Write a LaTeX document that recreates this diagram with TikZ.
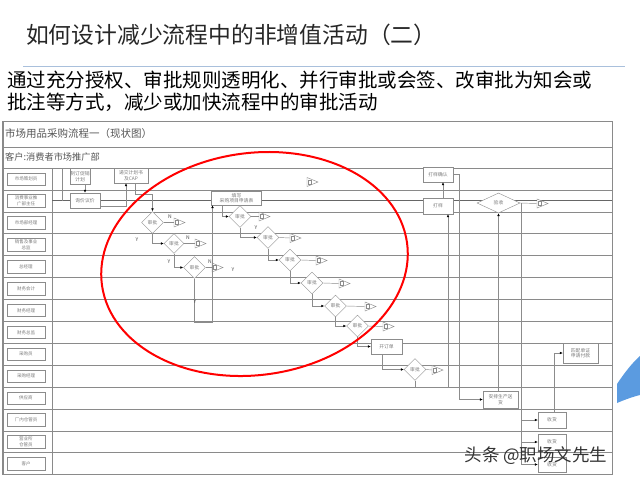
\documentclass[tikz,border=0pt]{standalone}
\usepackage{fontspec}
\setmainfont{Noto Sans CJK SC}
\usepackage{tikz}
\usetikzlibrary{shapes.geometric,arrows.meta}
\definecolor{linegray}{HTML}{8C8C8C}
\definecolor{tblgray}{HTML}{8A8A8A}
\definecolor{txtgray}{HTML}{7A7A7A}
\definecolor{hdrgray}{HTML}{555555}
\definecolor{rulec}{HTML}{A9C0DC}
\definecolor{swoosh}{HTML}{5B9BE0}
\newcommand\offpage[3]{%
    \coordinate (#1) at (#2,#3);
    \draw[ln,fill=white] (#1) ++(0,-4.5) -- ++(11,4.5) -- ++(-11,4.5) -- cycle;
    \draw[ln] (#1) ++(1.5,-2) rectangle ++(3,4);
}

\begin{document}
\begin{tikzpicture}[x=1pt,y=-1pt,
    tbl/.style={draw=tblgray,line width=0.5pt},
    ln/.style={draw=linegray,line width=0.45pt},
    arr/.style={ln,-{Latex[length=3pt,width=2.6pt,color=black]}},
    lbl/.style={draw=linegray,minimum width=38pt,minimum height=12.5pt,inner sep=0.5pt,align=center,text=txtgray,font=\fontsize{4.5}{5.2}\selectfont},
    box/.style={draw=linegray,fill=white,align=center,text=txtgray,inner sep=0.5pt,font=\fontsize{4.8}{5.6}\selectfont},
    dec/.style={diamond,draw=linegray,fill=white,minimum width=22pt,minimum height=22pt,inner sep=0pt,text=txtgray,font=\fontsize{4.8}{5.6}\selectfont},
    yn/.style={inner sep=0pt,text=black!70,font=\fontsize{5}{6}\selectfont}]
    \useasboundingbox (0,0) rectangle (640,480);

    \node[anchor=west,inner sep=0pt,text=black!85,font=\fontsize{22.8}{27}\selectfont] (title) at (26,35) {如何设计减少流程中的非增值活动（二）};
    \draw[rulec,line width=0.8pt] (23,66) -- (625,66);
    \node[anchor=west,inner sep=0pt,font=\fontsize{19.5}{22}\selectfont] (sub1) at (7,80) {通过充分授权、审批规则透明化、并行审批或会签、改审批为知会或};
    \node[anchor=west,inner sep=0pt,font=\fontsize{19.5}{22}\selectfont] (sub2) at (7,102) {批注等方式，减少或加快流程中的审批活动};

    \draw[tbl] (3,121) rectangle (612,474.6);
    \draw[tblgray,line width=1.2pt] (2.5,121) -- (2.5,474.6);
    \draw[tbl] (3,147) -- (612,147);
    \draw[tbl] (3,168) -- (612,168);
    \draw[tbl] (52,168) -- (52,474.6);
    \draw[tbl] (3,189.9) -- (612,189.9);
    \draw[tbl] (3,211.8) -- (612,211.8);
    \draw[tbl] (3,233.7) -- (612,233.7);
    \draw[tbl] (3,255.6) -- (612,255.6);
    \draw[tbl] (3,277.5) -- (612,277.5);
    \draw[tbl] (3,299.4) -- (612,299.4);
    \draw[tbl] (3,321.3) -- (612,321.3);
    \draw[tbl] (3,343.2) -- (612,343.2);
    \draw[tbl] (3,365.1) -- (612,365.1);
    \draw[tbl] (3,387) -- (612,387);
    \draw[tbl] (3,408.9) -- (612,408.9);
    \draw[tbl] (3,430.8) -- (612,430.8);
    \draw[tbl] (3,452.7) -- (612,452.7);
    \draw[black!60,line width=0.8pt] (52,200.5) -- (612,200.5);
    \draw[ln] (62,168) -- (62,200.5);

    \node[anchor=west,inner sep=0pt,text=hdrgray,font=\fontsize{10.5}{12}\selectfont] (tblhead) at (5,134) {市场用品采购流程一（现状图）};
    \node[anchor=west,inner sep=0pt,text=hdrgray,font=\fontsize{9.2}{11}\selectfont] (client) at (5,157.5) {客户:消费者市场推广部};

    \node[lbl] (l1) at (26,179) {市场策划员};
    \node[lbl] (l2) at (26,200.9) {消费事业推\\广部主任};
    \node[lbl] (l3) at (26,222.8) {市场部经理};
    \node[lbl] (l4) at (26,244.7) {销售及事业\\总监};
    \node[lbl] (l5) at (26,266.6) {总经理};
    \node[lbl] (l6) at (26,288.5) {财务会计};
    \node[lbl] (l7) at (26,310.4) {财务经理};
    \node[lbl] (l8) at (26,332.3) {财务总监};
    \node[lbl] (l9) at (26,354.2) {采购员};
    \node[lbl] (l10) at (26,376.1) {采购经理};
    \node[lbl] (l11) at (26,398) {供应商};
    \node[lbl] (l12) at (26,419.9) {厂内仓管员};
    \node[lbl] (l13) at (26,441.8) {营业所\\仓管员};
    \node[lbl] (l14) at (26,463.7) {客户};

    \node[box,minimum width=20pt,minimum height=16pt] (plan) at (80,176.5) {制订促销\\计划};
    \node[box,minimum width=30pt,minimum height=15pt] (inq) at (85,200.5) {询价议价};
    \node[box,minimum width=34pt,minimum height=15pt] (cap) at (131,175.5) {递交计划书\\及CAP};
    \node[dec] (d1) at (152.5,222.5) {审批};
    \node[dec,minimum width=20pt,minimum height=20pt] (d2) at (174,243.5) {审批};
    \node[dec] (d3) at (194.5,267.5) {审批};
    \node[box,minimum width=50pt,minimum height=14pt] (fill) at (236.5,198) {填写\\采购项目申请表};
    \node[dec] (d4) at (240,216.5) {审批};
    \node[dec] (d5) at (268,237.5) {审批};
    \node[dec] (d6) at (290,260) {审批};
    \node[dec] (d7) at (312,283) {审批};
    \node[dec] (d8) at (335.5,306) {审批};
    \node[dec] (d9) at (357.5,326) {审批};
    \node[box,minimum width=31pt,minimum height=15pt] (order) at (386.5,346.5) {开订单};
    \node[dec] (d10) at (415,369.5) {审批};
    \node[box,minimum width=30pt,minimum height=16pt] (proof) at (438,206) {打样};
    \node[box,minimum width=30pt,minimum height=15pt] (proofok) at (438,174.5) {打样确认};
    \node[dec,minimum width=43pt,minimum height=20pt] (check) at (498.5,203) {验收};
    \node[box,minimum width=35pt,minimum height=17pt] (ship) at (500.5,399.5) {安排生产送\\货};
    \node[box,minimum width=35pt,minimum height=20pt] (match) at (580.5,353) {匹配单证\\申请付款};
    \node[box,minimum width=28pt,minimum height=16pt] (recv1) at (552,420) {收货};
    \node[box,minimum width=28pt,minimum height=16pt] (recv2) at (552,442) {收货};
    \node[box,minimum width=28pt,minimum height=15pt] (recv3) at (552,464.5) {收货};

    \offpage{t1}{174}{222.5}
    \offpage{t2}{195}{243.5}
    \offpage{t3}{212}{267.5}
    \offpage{t4}{259}{216.5}
    \offpage{t5}{290}{238}
    \offpage{t6}{316}{260.5}
    \offpage{t7}{339}{283.5}
    \offpage{t8}{365}{306.5}
    \offpage{t9}{383}{326.5}
    \offpage{t10}{432}{370}
    \offpage{t11}{537}{203.5}
    \offpage{ttop}{307}{182}

    \draw[arr] (plan.south -| inq.north) -- (inq.north);
    \draw[arr] ([yshift=-6pt]inq.east) -| ([xshift=-5pt]cap.south);
    \draw[arr] ([xshift=4pt]cap.south) -- ++(0,11.5) -| (d1.north);
    \draw[arr] (d1.south) |- (d2.west);
    \draw[arr] (d2.south) |- (d3.west);
    \draw[ln] (d1.east) -- (t1);
    \draw[ln] (d2.east) -- (t2);
    \draw[ln] (d3.east) -- (t3);
    \coordinate (yb) at (212.5,322);
    \draw[ln] (d3.south) |- (yb);
    \draw[arr] (yb) -- (yb |- fill.south);
    \draw[arr] ([xshift=-14.5pt]fill.south) |- (d4.west);
    \draw[arr] (d4.south) |- (d5.west);
    \draw[arr] (d5.south) |- (d6.west);
    \draw[arr] (d6.south) |- (d7.west);
    \draw[arr] (d7.south) |- (d8.west);
    \draw[arr] (d8.south) |- (d9.west);
    \draw[arr] (d9.south) |- (order.west);
    \draw[arr] ([xshift=-4.5pt]order.south) |- (d10.west);
    \draw[ln] (d4.east) -- (t4);
    \draw[ln] (d5.east) -- (t5);
    \draw[ln] (d6.east) -- (t6);
    \draw[ln] (d7.east) -- (t7);
    \draw[ln] (d8.east) -- (t8);
    \draw[ln] (d9.east) -- (t9);
    \draw[ln] (d10.east) -- (t10);
    \draw[arr] (d10.south) -- ++(0,6.5) -| ([xshift=10pt]proof.south);
    \draw[arr] ([xshift=5pt]proof.north) -- ([xshift=5pt]proofok.south);
    \draw[arr] (proofok.east) -- ++(6,0) |- (ship.west);
    \draw[arr] (ship.north -| check.south) -- (check.south);
    \draw[ln] (check.east) -- (t11);
    \coordinate (vk) at ([xshift=1.5pt]check.east);
    \draw[arr] (vk) |- (recv3.west);
    \draw[arr] (vk |- recv1.west) -- (recv1.west);
    \draw[arr] (vk |- recv2.west) -- (recv2.west);
    \draw[arr] ([xshift=2pt]recv1.north) |- (match.west);

    \node[yn] (n1) at (170,216.5) {N};
    \node[yn] (n2) at (188,237.5) {N};
    \node[yn] (n3) at (210,261.5) {N};
    \node[yn] (y1) at (137,240) {Y};
    \node[yn] (y2) at (169,262) {Y};
    \node[yn] (y3) at (233,269.5) {Y};
    \node[yn] (y4) at (195,302) {Y};
    \node[yn] (y5) at (256,228) {Y};

    \draw[red,line width=2pt,rotate around={8:(254.5,264)}] (254.5,264) ellipse [x radius=154pt,y radius=111pt];
    \fill[swoosh] (617,384) .. controls (625,372) and (633,362) .. (640,356) -- (640,395) .. controls (632,397) and (624,400) .. (617,403) -- cycle;
    \node[inner sep=0pt,text=black!80,font=\fontsize{17.5}{20}\selectfont] (mark) at (536,456) {头条 @职场文先生};
\end{tikzpicture}
\end{document}
